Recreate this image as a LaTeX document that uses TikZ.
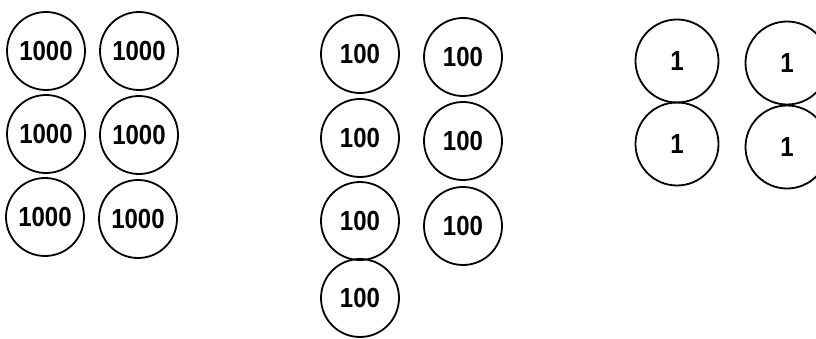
\documentclass[tikz,border=0pt]{standalone}
\usepackage{fontspec}
\setmainfont{Liberation Sans}
\usepackage{tikz}
\newcommand{\tallnum}[1]{\scalebox{1}[1.15]{#1}}

\begin{document}
\begin{tikzpicture}[x=1pt, y=1pt, font=\fontsize{24}{24}\selectfont\bfseries, coin/.style={draw, circle, line width=1.8pt, inner sep=0pt, minimum size=78pt}, bigcoin/.style={coin, minimum size=83pt}]
\useasboundingbox (0,0) rectangle (816,338);
% thousands
\node[coin] (k1) at (46,287) {\tallnum{1000}};
\node[coin] (k2) at (139,287) {\tallnum{1000}};
\node[coin] (k3) at (46,204) {\tallnum{1000}};
\node[coin] (k4) at (139,203) {\tallnum{1000}};
\node[coin] (k5) at (45,121) {\tallnum{1000}};
\node[coin] (k6) at (138,119) {\tallnum{1000}};
% hundreds
\node[coin] (h1) at (360,284) {\tallnum{100}};
\node[coin] (h2) at (463,281) {\tallnum{100}};
\node[coin] (h3) at (360,200) {\tallnum{100}};
\node[coin] (h4) at (463,197) {\tallnum{100}};
\node[coin] (h5) at (360,117) {\tallnum{100}};
\node[coin] (h6) at (463,112) {\tallnum{100}};
\node[coin] (h7) at (360,40) {\tallnum{100}};
% ones
\node[bigcoin] (u1) at (677,277) {\tallnum{1}};
\node[bigcoin] (u2) at (787,275) {\tallnum{1}};
\node[bigcoin] (u3) at (677,194) {\tallnum{1}};
\node[bigcoin] (u4) at (787,191) {\tallnum{1}};
\end{tikzpicture}
\end{document}
